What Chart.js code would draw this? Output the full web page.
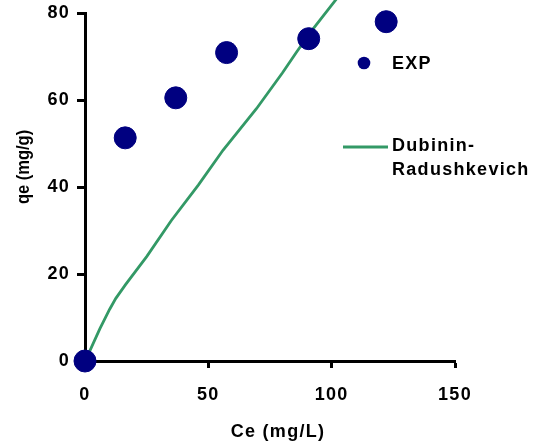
<!DOCTYPE html>
<html>
<head>
<meta charset="utf-8">
<script src="https://cdn.jsdelivr.net/npm/chart.js@4/dist/chart.umd.min.js"></script>
<style>
html,body{margin:0;padding:0;background:#fff;}
#wrap{width:538px;height:447px;position:relative;}
</style>
</head>
<body>
<div id="wrap"><canvas id="c" width="538" height="447"></canvas></div>
<script>
// Experimental data
const expCe = [0, 16.3, 36.8, 57.4, 90.7, 122.1];
const expQe = [0, 51.3, 60.5, 70.9, 74.1, 78.0];
// Dubinin-Radushkevich model curve
const drCe = [0, 2, 6, 10, 12.5, 16.5, 25, 35, 46, 56, 69.5, 80, 86, 92, 103];
const drQe = [0, 2.4, 7.4, 11.9, 14.4, 17.6, 24.0, 32.3, 40.5, 48.5, 58.0, 66.2, 71.2, 76.0, 84.0];
const xTicks = [0, 50, 100, 150];
const yTicks = [0, 20, 40, 60, 80];
const seriesNames = ['EXP', 'Dubinin-\nRadushkevich'];
const xTitle = 'Ce (mg/L)';
const yTitle = 'qe (mg/g)';

const NAVY = '#000080';
const GREEN = '#339966';
const FONT = '"Liberation Sans", Arial, sans-serif';
const SPACING = '1.3px';

const spacing = {
  id: 'spacing',
  beforeDraw(chart) { chart.ctx.letterSpacing = SPACING; }
};

const overlay = {
  id: 'overlay',
  afterDraw(chart) {
    const ctx = chart.ctx;
    ctx.save();
    ctx.letterSpacing = SPACING;
    ctx.fillStyle = '#000';
    ctx.font = 'bold 18px ' + FONT;
    ctx.textAlign = 'center';
    ctx.textBaseline = 'middle';
    // x title
    ctx.fillText(xTitle, 278, 432);
    // y title
    ctx.save();
    ctx.letterSpacing = '0px';
    ctx.translate(24, 167);
    ctx.rotate(-Math.PI / 2);
    ctx.scale(1, 1.1);
    ctx.font = 'bold 16.5px ' + FONT;
    ctx.fillText(yTitle, 0, 0);
    ctx.restore();
    // legend
    ctx.textAlign = 'left';
    ctx.beginPath();
    ctx.fillStyle = NAVY;
    ctx.arc(364, 63, 6.3, 0, Math.PI * 2);
    ctx.fill();
    ctx.fillStyle = '#000';
    ctx.fillText(seriesNames[0], 392, 64);
    ctx.strokeStyle = GREEN;
    ctx.lineWidth = 2.8;
    ctx.beginPath();
    ctx.moveTo(343, 147);
    ctx.lineTo(388, 147);
    ctx.stroke();
    const lines = seriesNames[1].split('\n');
    lines.forEach((t, i) => ctx.fillText(t, 392, 146 + i * 24));
    ctx.restore();
  }
};

new Chart(document.getElementById('c'), {
  type: 'scatter',
  data: {
    datasets: [
      {
        label: 'EXP',
        data: expCe.map((x, i) => ({x, y: expQe[i]})),
        backgroundColor: NAVY,
        borderColor: NAVY,
        pointRadius: 11,
        pointHoverRadius: 11,
        clip: false
      },
      {
        label: 'Dubinin-Radushkevich',
        data: drCe.map((x, i) => ({x, y: drQe[i]})),
        showLine: true,
        borderColor: GREEN,
        borderWidth: 2.8,
        pointRadius: 0,
        tension: 0,
        clip: false
      }
    ]
  },
  options: {
    responsive: false,
    animation: false,
    events: [],
    layout: { padding: { left: 0, top: 13, right: 83, bottom: 0 } },
    plugins: { legend: { display: false }, tooltip: { enabled: false } },
    scales: {
      x: {
        type: 'linear',
        min: 0, max: 150,
        afterBuildTicks(s) { s.ticks = xTicks.map(v => ({value: v})); },
        afterFit(s) { s.height = 86; s.paddingLeft = 0; s.paddingRight = 0; },
        grid: { display: true, drawOnChartArea: false, drawTicks: true, tickLength: 7, tickColor: '#000', tickWidth: 3 },
        border: { display: true, color: '#000', width: 3 },
        ticks: { color: '#000', font: { family: FONT, size: 18, weight: 'bold' }, padding: 16, maxRotation: 0 }
      },
      y: {
        type: 'linear',
        min: 0, max: 80,
        afterBuildTicks(s) { s.ticks = yTicks.map(v => ({value: v})); },
        afterFit(s) { s.width = 85; s.paddingTop = 0; s.paddingBottom = 0; },
        grid: { display: true, drawOnChartArea: false, drawTicks: true, tickLength: 8, tickColor: '#000', tickWidth: 3 },
        border: { display: true, color: '#000', width: 3 },
        ticks: { color: '#000', font: { family: FONT, size: 18, weight: 'bold' }, padding: 7 }
      }
    }
  },
  plugins: [spacing, overlay]
});
</script>
</body>
</html>
